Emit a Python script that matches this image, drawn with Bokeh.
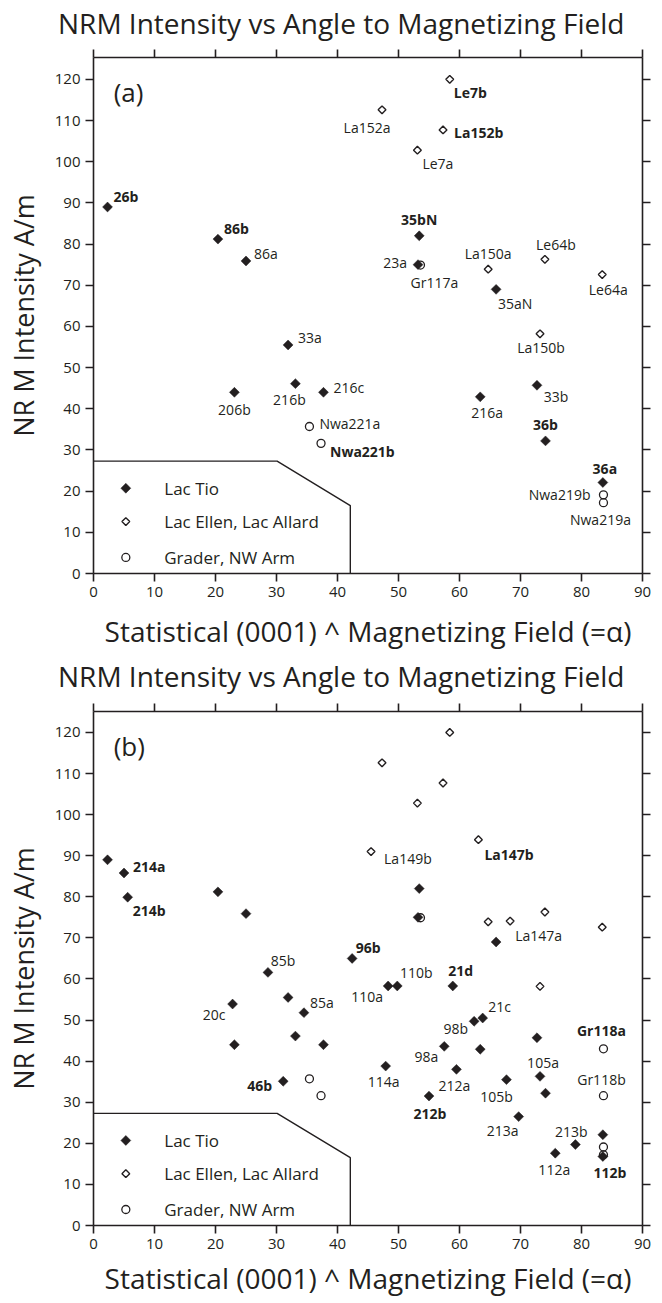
import numpy as np
from bokeh.plotting import figure
from bokeh.models import (Range1d, LinearAxis, Label, ColumnDataSource, FixedTicker)
from bokeh.layouts import column
from bokeh.embed import file_html
from bokeh.resources import INLINE
from bokeh.core.properties import value

FONT = "Open Sans"
INK = "#231f20"

TITLE = "NRM Intensity  vs  Angle to Magnetizing Field"
X_LABEL = "Statistical (0001) ^ Magnetizing Field (=\u03b1)"
Y_LABEL = "NR M Intensity A/m"
X_TICKS = [0, 10, 20, 30, 40, 50, 60, 70, 80, 90]
Y_TICKS = [0, 10, 20, 30, 40, 50, 60, 70, 80, 90, 100, 110, 120]
LEGEND_LABELS = ["Lac Tio", "Lac Ellen, Lac Allard", "Grader, NW Arm"]

# ---------------- data shown in panel (a) ----------------
tio_a_names = ["26b", "86b", "86a", "35bN", "23a", "35aN", "33a", "206b",
               "216b", "216c", "216a", "33b", "36b", "36a"]
tio_a_x = [2.3, 20.4, 25.0, 53.4, 53.2, 66.0, 31.9, 23.1, 33.1, 37.7, 63.4, 72.7, 74.1, 83.5]
tio_a_y = [89.0, 81.2, 75.9, 82.0, 75.0, 69.0, 55.5, 44.0, 46.1, 44.0, 42.9, 45.7, 32.2, 22.1]

ellen_a_names = ["Le7b", "La152a", "La152b", "Le7a", "La150a", "Le64b", "Le64a", "La150b"]
ellen_a_x = [58.4, 47.3, 57.3, 53.1, 64.7, 74.0, 83.4, 73.2]
ellen_a_y = [120.0, 112.6, 107.7, 102.8, 73.9, 76.3, 72.6, 58.2]

grader_a_names = ["Gr117a", "Nwa221a", "Nwa221b", "Nwa219b", "Nwa219a"]
grader_a_x = [53.6, 35.4, 37.3, 83.6, 83.6]
grader_a_y = [74.9, 35.7, 31.6, 19.1, 17.2]

# ---------------- additional samples in panel (b) ----------------
tio_b_names = ["214a", "214b", "96b", "85b", "20c", "85a", "46b", "110a", "110b", "21d",
               "21c", "98b", "98a", "114a", "212a", "105b", "105a", "212b", "213a",
               "213b", "112a", "112b"]
tio_b_x = [5.0, 5.6, 42.4, 28.6, 22.8, 34.5, 31.1, 48.3, 49.8, 58.9, 63.8, 62.4, 57.5,
           47.9, 59.5, 67.7, 73.2, 55.0, 69.7, 79.0, 75.7, 83.5]
tio_b_y = [85.8, 79.9, 65.0, 61.6, 53.9, 51.8, 35.1, 58.3, 58.3, 58.3, 50.5, 49.7, 43.6,
           38.8, 38.0, 35.5, 36.3, 31.5, 26.5, 19.7, 17.6, 16.8]

ellen_b_names = ["La147b", "La149b", "La147a"]
ellen_b_x = [63.1, 45.5, 68.3]
ellen_b_y = [93.9, 91.0, 74.1]

grader_b_names = ["Gr118a", "Gr118b"]
grader_b_x = [83.6, 83.6]
grader_b_y = [43.0, 31.6]

# ---------------- label placement (style only: align, dx px, dy px, bold) ----------------
labels_a = {
    "26b": ("left", 6, -10, True), "86b": ("left", 6, -11, True), "86a": ("left", 8, -7, False),
    "Le7b": ("left", 4, 13, True), "La152a": ("center", -15, 18, False),
    "La152b": ("left", 11, 3, True), "Le7a": ("left", 5, 13, False),
    "35bN": ("center", 0, -16, True), "23a": ("right", -11, -2, False),
    "Gr117a": ("center", 14, 17, False), "La150a": ("center", 0, -16, False),
    "35aN": ("center", 19, 14, False), "Le64b": ("center", 11, -15, False),
    "Le64a": ("center", 6, 15, False), "33a": ("left", 10, -7, False),
    "206b": ("center", 0, 17, False), "216b": ("center", -6, 16, False),
    "216c": ("left", 10, -5, False), "Nwa221a": ("left", 10, -3, False),
    "Nwa221b": ("left", 9, 8, True), "La150b": ("center", 1, 14, False),
    "33b": ("center", 19, 11, False), "216a": ("center", 7, 16, False),
    "36b": ("center", 0, -16, True), "36a": ("center", 2, -14, True),
    "Nwa219b": ("right", -13, 0, False), "Nwa219a": ("center", -3, 17, False),
}
labels_b = {
    "214a": ("left", 9, -6, True), "214b": ("left", 5, 13, True),
    "La147b": ("left", 6, 15, True), "La149b": ("left", 13, 7, False),
    "La147a": ("left", 5, 14, False), "96b": ("center", 16, -11, True),
    "85b": ("center", 15, -12, False), "20c": ("right", -7, 10, False),
    "85a": ("left", 6, -10, False), "46b": ("right", -11, 4, True),
    "110a": ("center", -21, 11, False), "110b": ("center", 19, -13, False),
    "21d": ("center", 8, -15, True), "21c": ("center", 17, -12, False),
    "98b": ("right", -6, 7, False), "98a": ("right", -6, 10, False),
    "114a": ("center", -2, 15, False), "212a": ("center", -2, 16, False),
    "105b": ("center", -10, 17, False), "105a": ("center", 3, -14, False),
    "212b": ("center", 1, 17, True), "213a": ("center", -16, 14, False),
    "213b": ("center", -4, -13, False), "112a": ("center", -1, 16, False),
    "112b": ("center", 7, 16, True), "Gr118a": ("center", -2, -18, True),
    "Gr118b": ("center", -2, -16, False),
}

# legend box outline and legend entry anchors (data units, decoration only)
BOX_X = [0, 30.1, 42.1, 42.1]
BOX_Y = [27.3, 27.3, 16.5, 0]
LEG_MARK_X = 5.3
LEG_TEXT_X = 11.6
LEG_ROW_Y = [20.7, 12.6, 3.9]


def style_axis(ax, ticks, show_labels):
    ax.ticker = FixedTicker(ticks=ticks)
    ax.axis_line_width = 1.6
    ax.axis_line_color = INK
    ax.major_tick_line_width = 1.6
    ax.major_tick_line_color = INK
    ax.major_tick_in = 0
    ax.major_tick_out = 8
    ax.minor_tick_line_color = None
    ax.major_label_text_font = FONT
    if show_labels:
        ax.major_label_text_color = INK
        ax.major_label_text_font_size = "15px"
        ax.major_label_standoff = 5
    else:
        ax.major_label_text_color = None
        ax.major_label_text_alpha = 0
        ax.major_label_text_font_size = "1px"
        ax.major_label_standoff = 0
    ax.axis_label_text_font = FONT
    ax.axis_label_text_font_style = "normal"
    ax.axis_label_text_font_size = "27px"
    ax.axis_label_text_color = INK


def make_title(height, center_from_top):
    t = figure(width=662, height=height, x_range=Range1d(0, 662), y_range=Range1d(0, height),
               output_backend="svg", toolbar_location=None,
               x_axis_location=None, y_axis_location=None, min_border=0,
               frame_align=False)
    t.grid.grid_line_color = None
    t.outline_line_color = None
    t.add_layout(Label(x=348, y=height - center_from_top, text=TITLE, text_font=FONT,
                       text_font_size="28px", text_align="center",
                       text_baseline="middle", text_color=INK))
    return t


def make_panel(letter, groups, label_spec, height, btop, bbot, ytop, xlab_standoff):
    p = figure(width=662, height=height, x_range=Range1d(0, 90), y_range=Range1d(0, ytop),
               output_backend="svg", toolbar_location=None,
               min_border_left=93, min_border_right=20,
               min_border_top=btop, min_border_bottom=bbot)
    p.grid.grid_line_color = None
    p.outline_line_color = None
    p.background_fill_color = "white"
    p.border_fill_color = "white"

    style_axis(p.xaxis[0], X_TICKS, True)
    style_axis(p.yaxis[0], Y_TICKS, True)
    p.xaxis[0].axis_label = X_LABEL
    p.xaxis[0].axis_label_text_font_size = "28px"
    p.xaxis[0].axis_label_standoff = xlab_standoff
    p.yaxis[0].axis_label = Y_LABEL
    p.yaxis[0].axis_label_standoff = 10
    top = LinearAxis()
    style_axis(top, X_TICKS, False)
    p.add_layout(top, "above")
    right = LinearAxis()
    style_axis(right, Y_TICKS, False)
    p.add_layout(right, "right")

    (tn, tx, ty), (en, ex, ey), (gn, gx, gy) = groups

    # legend box
    p.line(BOX_X, BOX_Y, line_color=INK, line_width=1.4)

    tio_style = dict(marker="square", angle=np.pi / 4, size=7,
                     fill_color=INK, line_color=INK, line_width=0.5)
    ell_style = dict(marker="square", angle=np.pi / 4, size=5.5,
                     fill_color="white", line_color=INK, line_width=1.4)
    gr_style = dict(marker="circle", size=8, fill_color=None, line_color=INK, line_width=1.3)

    p.scatter(tx, ty, **tio_style)
    p.scatter(ex, ey, **ell_style)
    p.scatter(gx, gy, **gr_style)

    # legend entries (drawn by hand so the diamonds keep their rotation)
    p.scatter([LEG_MARK_X], [LEG_ROW_Y[0]], **tio_style)
    p.scatter([LEG_MARK_X], [LEG_ROW_Y[1]], **ell_style)
    p.scatter([LEG_MARK_X], [LEG_ROW_Y[2]], **gr_style)
    p.text(x=[LEG_TEXT_X] * 3, y=LEG_ROW_Y, text=LEGEND_LABELS,
           text_align="left", text_baseline="middle", text_font=value(FONT),
           text_font_size="17px", text_color=INK)

    names = tn + en + gn
    xs = list(tx) + list(ex) + list(gx)
    ys = list(ty) + list(ey) + list(gy)
    for align in ("left", "center", "right"):
        for bold in (False, True):
            d = dict(x=[], y=[], text=[], xo=[], yo=[])
            for n, x, y in zip(names, xs, ys):
                if n in label_spec:
                    a, dx, dy, b = label_spec[n]
                    if a == align and b == bold:
                        d["x"].append(x); d["y"].append(y); d["text"].append(n)
                        d["xo"].append(dx); d["yo"].append(dy)
            if d["x"]:
                p.text(x="x", y="y", text="text", x_offset="xo", y_offset="yo",
                       source=ColumnDataSource(d), text_align=align,
                       text_baseline="middle", text_font=value(FONT),
                       text_font_size="14px", text_color=INK,
                       text_font_style="bold" if bold else "normal")

    p.add_layout(Label(x=3.3, y=ytop - 8.4, text=letter, text_font=FONT,
                       text_font_size="26px", text_baseline="middle", text_color=INK))
    return p


ta = make_title(42, 22)
pa = make_panel("(a)",
                ((tio_a_names, tio_a_x, tio_a_y),
                 (ellen_a_names, ellen_a_x, ellen_a_y),
                 (grader_a_names, grader_a_x, grader_a_y)),
                labels_a, 614, 15, 83, 125.3, 12)

tb = make_title(40, 19)
pb = make_panel("(b)",
                ((tio_a_names + tio_b_names, tio_a_x + tio_b_x, tio_a_y + tio_b_y),
                 (ellen_a_names + ellen_b_names, ellen_a_x + ellen_b_x, ellen_a_y + ellen_b_y),
                 (grader_a_names + grader_b_names, grader_a_x + grader_b_x, grader_a_y + grader_b_y)),
                labels_b, 607, 15, 78, 125.1, 7)

layout = column(ta, pa, tb, pb, spacing=0)
open("out.html", "w").write(file_html(layout, INLINE))
